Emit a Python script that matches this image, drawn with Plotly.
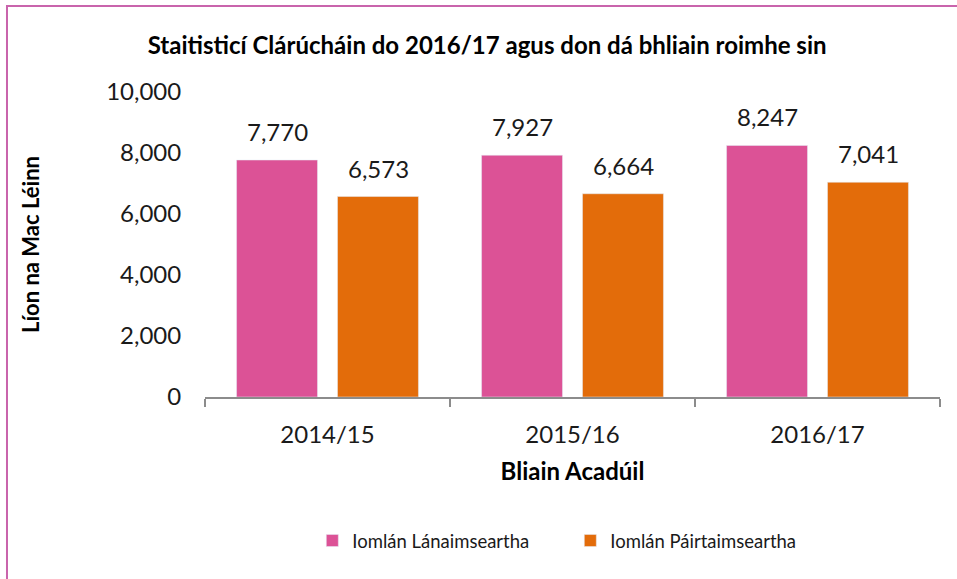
import plotly.graph_objects as go

# chart data
years = ['2014/15', '2015/16', '2016/17']
full_time = [7770, 7927, 8247]
part_time = [6573, 6664, 7041]
series_names = ['Iomlán Lánaimseartha', 'Iomlán Páirtaimseartha']

pink = '#DC5296'
orange = '#E36C0A'
font_name = 'Lato'
text_col = '#1a1a1a'

fig = go.Figure()

fig.add_trace(go.Bar(x=years, y=full_time, name=series_names[0], marker_color=pink))
fig.add_trace(go.Bar(x=years, y=part_time, name=series_names[1], marker_color=orange))

# value labels sit a bit higher above the bars than plotly's "outside" text does
annotations = []
for series, shift in [(full_time, -50.5), (part_time, 50.5)]:
    for yr, val in zip(years, series):
        annotations.append(dict(
            x=yr, y=val, xref='x', yref='y', text=f'{val:,}',
            showarrow=False, xshift=shift, yshift=12, yanchor='bottom',
            font=dict(size=24, color=text_col)
        ))

fig.update_layout(
    width=957, height=579,
    font=dict(family=font_name, color=text_col),
    paper_bgcolor='white', plot_bgcolor='white',
    margin=dict(l=205, r=17, t=92, b=182),
    barmode='group', bargap=0.176, bargroupgap=0.198,
    title=dict(
        text='<b>Staitisticí Clárúcháin do 2016/17 agus don dá bhliain roimhe sin</b>',
        x=0.509, xanchor='center', y=0.922, yanchor='middle',
        font=dict(size=24, color='#000000')
    ),
    legend=dict(
        orientation='h', x=0.146, xanchor='left', y=-0.472, yanchor='middle',
        font=dict(size=18.5, color=text_col),
        entrywidth=213, entrywidthmode='pixels'
    ),
    annotations=annotations,
    shapes=[dict(
        type='rect', xref='paper', yref='paper',
        x0=-0.2694, x1=1.1, y0=-1.0, y1=1.282,
        line=dict(color='#C964AC', width=2), layer='below'
    )]
)

fig.update_xaxes(
    showline=True, linecolor='#8C8C8C', linewidth=2,
    ticks='outside', tickson='boundaries', ticklen=8, tickcolor='#8C8C8C', tickwidth=2,
    ticklabelstandoff=15,
    tickfont=dict(size=24),
    title=dict(text='<b>Bliain Acadúil</b>', font=dict(size=24, color='#000000'), standoff=16)
)
fig.update_yaxes(
    range=[0, 10000], dtick=2000, tickformat=',',
    showgrid=False, showline=False, zeroline=False,
    ticks='outside', ticklen=18, tickcolor='rgba(0,0,0,0)',
    tickfont=dict(size=24),
    title=dict(text='<b>Líon na Mac Léinn</b>', font=dict(size=22, color='#000000'), standoff=60)
)

# drop the default 8px page margin so the figure sits at the window's corner
fig.write_html("out.html", config={'displayModeBar': False},
               post_script="document.body.style.margin='0';")
